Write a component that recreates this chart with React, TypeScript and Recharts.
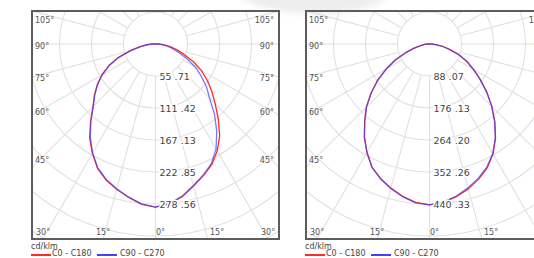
import { RadarChart, Radar, PolarGrid, PolarAngleAxis, PolarRadiusAxis } from 'recharts'

// gamma angles (0 = straight down), one half-plane
const GAMMA = [0, 5, 10, 15, 20, 25, 30, 35, 40, 45, 50, 55, 60, 65, 70, 75, 80, 85, 90]

// left diagram, cd/klm
const A_C0 = [284, 279, 270, 256, 244, 232, 215, 195, 170, 147, 128, 110, 92, 73, 53, 38, 26, 14, 5]
const A_C180 = [284, 280, 271, 262, 252, 239, 220, 200, 176, 154, 139, 124, 108, 90, 69, 46, 28, 15, 6]
const A_C90 = [284, 279, 269, 255, 243, 230, 211, 186, 160, 133, 116, 97, 80, 60, 43, 31, 21, 11, 4]
const A_C270 = [284, 280, 271, 261, 251, 238, 219, 198, 175, 153, 138, 123, 107, 89, 68, 45, 27, 14, 5]
const A_RINGS = [55.71, 111.42, 167.13, 222.85, 278.56]
const A_RING_LABELS = ['55 .71', '111 .42', '167 .13', '222 .85', '278 .56']

// right diagram, cd/klm
const B_C0 = [443, 438, 427, 413, 396, 376, 350, 317, 280, 243, 206, 171, 140, 114, 86, 57, 36, 18, 6]
const B_C180 = [443, 438, 426, 411, 394, 375, 345, 313, 278, 246, 210, 175, 138, 104, 70, 44, 25, 14, 6]
const B_C90 = [443, 437, 425, 410, 393, 374, 348, 316, 279, 242, 205, 170, 139, 113, 85, 56, 35, 17, 5]
const B_C270 = [443, 439, 427, 412, 395, 374, 344, 312, 277, 245, 209, 174, 137, 103, 69, 43, 24, 13, 5]
const B_RINGS = [88.07, 176.13, 264.2, 352.26, 440.33]
const B_RING_LABELS = ['88 .07', '176 .13', '264 .20', '352 .26', '440 .33']

const SIDE_LABELS = ['105°', '90°', '75°', '60°', '45°']
const SIDE_Y = [7, 33, 65, 99, 147]
const BOTTOM_LABELS = ['30°', '15°', '0°', '15°', '30°']
const BOTTOM_X = [5, 65, 125, 179, 230]

const SERIES = [
  { key: 'red', name: 'C0 - C180', color: '#ff2b2b', opacity: 1 },
  { key: 'blue', name: 'C90 - C270', color: '#4040ff', opacity: 0.7 },
]

const W = 249
const H = 230
const CX = 124.5
const CY = 34
const RADII = [32, 64, 96, 128, 160, 192, 224, 256]
const SPOKES = Array.from({ length: 24 }, (_, i) => i * 15)
const FONT = '"DejaVu Sans", Verdana, sans-serif'

function buildRows(c0: number[], c180: number[], c90: number[], c270: number[]) {
  const rows: { angle: number; red: number; blue: number }[] = []
  GAMMA.forEach((g, i) => rows.push({ angle: g, red: c180[i], blue: c270[i] }))
  rows.push({ angle: 180, red: 0, blue: 0 })
  for (let i = GAMMA.length - 1; i >= 1; i--) {
    rows.push({ angle: 360 - GAMMA[i], red: c0[i], blue: c90[i] })
  }
  return rows
}

interface PanelProps {
  left: number
  rows: { angle: number; red: number; blue: number }[]
  rings: number[]
  ringLabels: string[]
}

const Panel = ({ left, rows, rings, ringLabels }: PanelProps) => {
  const max = rings[0] * 8
  const renderTick = (p: any) => {
    const idx = rings.indexOf(p.payload.value)
    return (
      <text
        x={p.x + 4}
        y={p.y + 1}
        textAnchor="start"
        dominantBaseline="central"
        fontSize={9.5}
        fontFamily={FONT}
        fill="#444"
        stroke="#fff"
        strokeWidth={3}
        paintOrder="stroke"
      >
        {idx >= 0 ? ringLabels[idx] : ''}
      </text>
    )
  }
  const labelStyle = {
    position: 'absolute' as const,
    fontFamily: FONT,
    fontSize: 8,
    lineHeight: '10px',
    color: '#555',
    whiteSpace: 'nowrap' as const,
  }
  return (
    <>
      <div style={{ position: 'absolute', left, top: 10, width: W, height: H, overflow: 'hidden' }}>
        <svg width={W} height={H} style={{ position: 'absolute', left: 0, top: 0 }}>
          {SPOKES.map((a) => {
            const t = (a * Math.PI) / 180
            return (
              <line
                key={a}
                x1={CX + 32 * Math.cos(t)}
                y1={CY - 32 * Math.sin(t)}
                x2={CX + 330 * Math.cos(t)}
                y2={CY - 330 * Math.sin(t)}
                stroke="#e0e0e0"
                strokeWidth={1.1}
              />
            )
          })}
        </svg>
        <div style={{ position: 'absolute', left: 0, top: 0 }}>
          <RadarChart
            width={W}
            height={H}
            data={rows}
            cx={CX}
            cy={CY}
            innerRadius={0}
            outerRadius={256}
            startAngle={270}
            endAngle={-90}
            margin={{ top: 0, right: 0, bottom: 0, left: 0 }}
          >
            <PolarGrid gridType="circle" radialLines={false} polarRadius={RADII} stroke="#e0e0e0" strokeWidth={1.1} />
            <PolarAngleAxis dataKey="angle" type="number" domain={[0, 360]} tick={false} axisLine={false} tickLine={false} />
            <PolarRadiusAxis
              angle={270}
              type="number"
              domain={[0, max]}
              allowDataOverflow
              ticks={rings}
              tick={renderTick}
              axisLine={false}
              tickLine={false}
            />
            {SERIES.map((s) => (
              <Radar
                key={s.key}
                dataKey={s.key}
                name={s.name}
                stroke={s.color}
                strokeOpacity={s.opacity}
                strokeWidth={1.3}
                strokeLinejoin="round"
                fill="none"
                fillOpacity={0}
                dot={false}
                isAnimationActive={false}
              />
            ))}
          </RadarChart>
        </div>
        {SIDE_LABELS.map((t, i) => (
          <div key={'l' + i} style={{ ...labelStyle, left: 4, top: SIDE_Y[i] - 1 }}>{t}</div>
        ))}
        {SIDE_LABELS.map((t, i) => (
          <div key={'r' + i} style={{ ...labelStyle, right: 6, top: SIDE_Y[i] - 1, textAlign: 'right' }}>{t}</div>
        ))}
        {BOTTOM_LABELS.map((t, i) => (
          <div key={'b' + i} style={{ ...labelStyle, left: BOTTOM_X[i], top: 218 }}>{t}</div>
        ))}
      </div>
      <div
        style={{
          position: 'absolute',
          left,
          top: 10,
          width: W,
          height: H,
          border: '2px solid #5c5c5c',
          boxSizing: 'border-box',
        }}
      />
      <div style={{ ...labelStyle, left, top: 242, color: '#444' }}>cd/klm</div>
      {SERIES.map((s, i) => (
        <div key={s.key}>
          <div
            style={{
              position: 'absolute',
              left: left + (i === 0 ? 0 : 66),
              top: 254,
              width: 20,
              height: 1.5,
              background: s.color,
            }}
          />
          <div style={{ ...labelStyle, left: left + (i === 0 ? 21 : 89), top: 249, color: '#444' }}>{s.name}</div>
        </div>
      ))}
    </>
  )
}

export default function App() {
  const rowsA = buildRows(A_C0, A_C180, A_C90, A_C270)
  const rowsB = buildRows(B_C0, B_C180, B_C90, B_C270)
  return (
    <div
      style={{
        position: 'absolute',
        left: 0,
        top: 0,
        width: 534,
        height: 258,
        overflow: 'hidden',
        background: '#fff',
      }}
    >
      <div
        style={{
          position: 'absolute',
          left: 235,
          top: -42,
          width: 160,
          height: 56,
          borderRadius: '50%',
          background: '#ededed',
          filter: 'blur(3px)',
        }}
      />
      <Panel left={31} rows={rowsA} rings={A_RINGS} ringLabels={A_RING_LABELS} />
      <Panel left={305} rows={rowsB} rings={B_RINGS} ringLabels={B_RING_LABELS} />
    </div>
  )
}
